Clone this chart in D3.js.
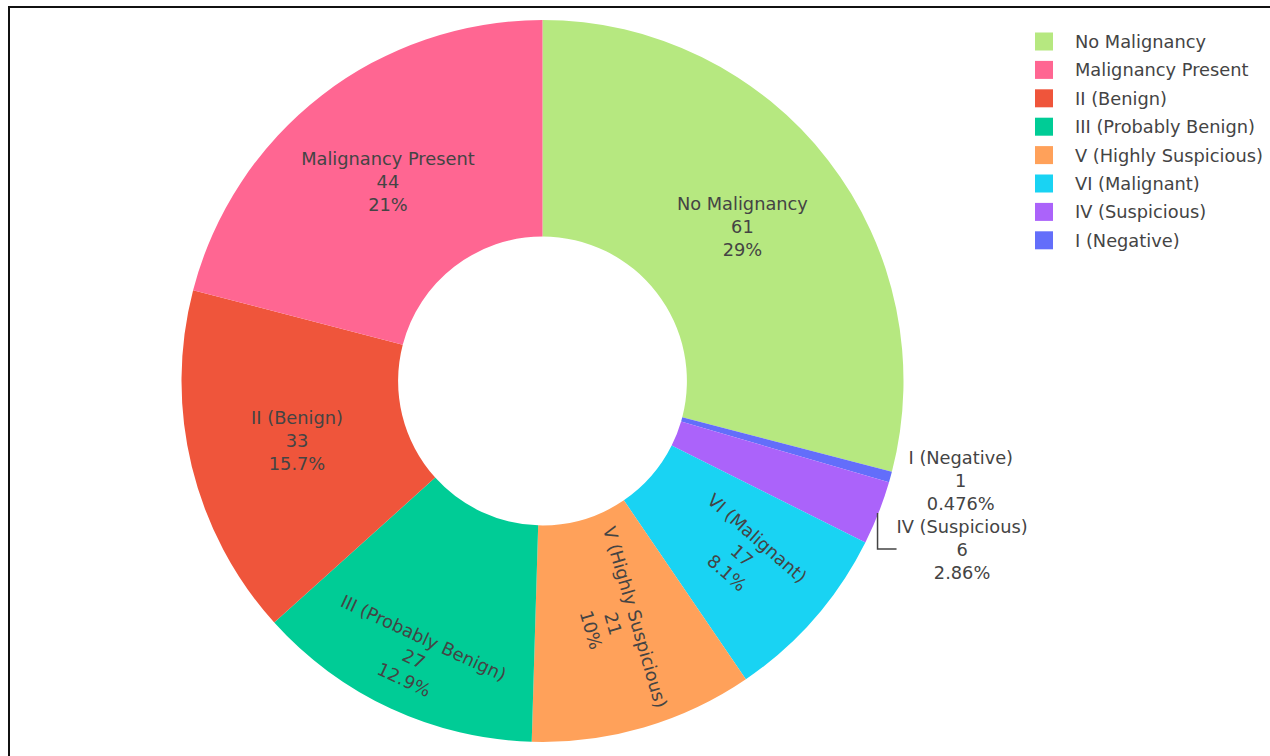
<!DOCTYPE html>
<html>
<head>
<meta charset="utf-8">
<script src="https://cdn.jsdelivr.net/npm/d3@7/dist/d3.min.js"></script>
<style>
  html, body { margin: 0; padding: 0; background: #fff; }
  svg { display: block; }
  text { font-family: "DejaVu Sans", Verdana, sans-serif; fill: #444; }
</style>
</head>
<body>
<svg id="chart" width="1270" height="756"></svg>
<script>
// ---- data (legend order) ----
const categories = ["No Malignancy", "Malignancy Present", "II (Benign)", "III (Probably Benign)",
                    "V (Highly Suspicious)", "VI (Malignant)", "IV (Suspicious)", "I (Negative)"];
const counts = [61, 44, 33, 27, 21, 17, 6, 1];
const colors = ["#B6E880", "#FF6692", "#EF553B", "#00CC96", "#FFA15A", "#19D3F3", "#AB63FA", "#636EFA"];
// order of slices clockwise from 12 o'clock
const sliceOrder = ["No Malignancy", "I (Negative)", "IV (Suspicious)", "VI (Malignant)",
                    "V (Highly Suspicious)", "III (Probably Benign)", "II (Benign)", "Malignancy Present"];

// ---- layout / style config ----
const cx = 542.5, cy = 381, R = 361, hole = 0.4;
const fontSize = 17.8, lineH = 23;
const labelMode = {
  "No Malignancy": "horizontal", "Malignancy Present": "horizontal", "II (Benign)": "horizontal",
  "III (Probably Benign)": "tangential", "V (Highly Suspicious)": "radial", "VI (Malignant)": "radial",
  "IV (Suspicious)": "outside", "I (Negative)": "outside"
};
const labelRadius = { "III (Probably Benign)": 306, "VI (Malignant)": 265 };

const svg = d3.select("#chart");
// frame
svg.append("line").attr("x1", 8).attr("x2", 1270).attr("y1", 7).attr("y2", 7)
  .attr("stroke", "#111").attr("stroke-width", 2);
svg.append("line").attr("x1", 9).attr("x2", 9).attr("y1", 6).attr("y2", 756)
  .attr("stroke", "#111").attr("stroke-width", 2);

const total = d3.sum(counts);
const colorScale = d3.scaleOrdinal().domain(categories).range(colors);
const valueOf = new Map(categories.map((c, i) => [c, counts[i]]));
const pctFmt = d3.format(".3~r");

const pie = d3.pie().sort(null).value(d => valueOf.get(d));
const arcs = pie(sliceOrder);
const arc = d3.arc().innerRadius(R * hole).outerRadius(R);

const g = svg.append("g").attr("transform", `translate(${cx},${cy})`);
g.selectAll("path.slice").data(arcs).join("path")
  .attr("class", "slice")
  .attr("d", arc)
  .attr("fill", d => colorScale(d.data));

function linesFor(name) {
  const v = valueOf.get(name);
  return [name, String(v), pctFmt(v / total * 100) + "%"];
}

const deg = a => a * 180 / Math.PI;
const midR = R * (1 + hole) / 2;

// inside labels
arcs.filter(d => labelMode[d.data] !== "outside").forEach(d => {
  const mid = (d.startAngle + d.endAngle) / 2;
  const r = labelRadius[d.data] || midR;
  const x = r * Math.sin(mid), y = -r * Math.cos(mid);
  const md = deg(mid);
  let rot = 0;
  if (labelMode[d.data] === "tangential") rot = (md > 90 && md < 270) ? md - 180 : md;
  if (labelMode[d.data] === "radial") rot = md < 180 ? md - 90 : md - 270;
  const lg = g.append("g").attr("transform", `translate(${x},${y}) rotate(${rot})`);
  linesFor(d.data).forEach((t, i) => {
    lg.append("text").attr("x", 0).attr("y", (i - 1) * lineH)
      .attr("text-anchor", "middle").attr("dominant-baseline", "central")
      .style("font-size", fontSize + "px").text(t);
  });
});

// outside labels (right side), stacked downward to avoid overlap
let prevBottom = -Infinity;
const outside = arcs.filter(d => labelMode[d.data] === "outside")
  .map(d => {
    const mid = (d.startAngle + d.endAngle) / 2;
    return { d, mid, ox: R * Math.sin(mid), oy: -R * Math.cos(mid) };
  })
  .sort((a, b) => a.oy - b.oy);
outside.forEach(o => {
  let ly = o.oy + 3;
  if (ly - 1.5 * lineH < prevBottom) ly = prevBottom + 1.5 * lineH;
  prevBottom = ly + 1.5 * lineH;
  const moved = Math.abs(ly - (o.oy + 3)) > 1;
  const left = o.ox + 18;
  const lg = g.append("g");
  const texts = linesFor(o.d.data).map((t, i) =>
    lg.append("text").attr("y", ly + (i - 1) * lineH)
      .attr("text-anchor", "middle").attr("dominant-baseline", "central")
      .style("font-size", fontSize + "px").text(t));
  const w = d3.max(texts, t => t.node().getComputedTextLength());
  texts.forEach(t => t.attr("x", left + w / 2));
  if (moved) {
    g.append("path")
      .attr("d", `M${o.ox - 1},${o.oy}V${ly}H${left}`)
      .attr("fill", "none").attr("stroke", "#444").attr("stroke-width", 1.5);
  }
});

// legend
const legendX = 1035, legendY0 = 41.5, legendStep = 28.4;
const lgd = svg.append("g");
categories.forEach((c, i) => {
  const y = legendY0 + i * legendStep;
  lgd.append("rect").attr("x", legendX).attr("y", y - 9).attr("width", 18).attr("height", 18)
    .attr("fill", colorScale(c));
  lgd.append("text").attr("x", legendX + 40).attr("y", y)
    .attr("dominant-baseline", "central").style("font-size", fontSize + "px").text(c);
});
</script>
</body>
</html>
